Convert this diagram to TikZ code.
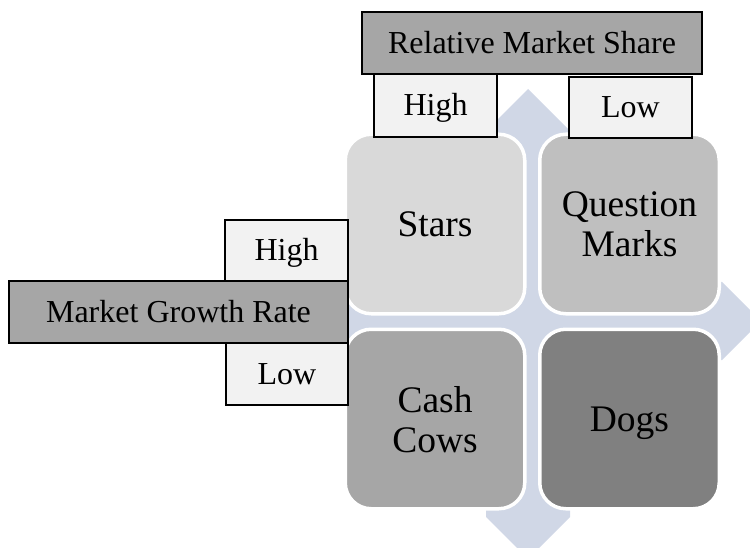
\documentclass[tikz,border=0pt]{standalone}
\usepackage{fontspec}
\setmainfont{Liberation Serif}
\definecolor{arrowbg}{HTML}{D0D7E6}
\definecolor{lblfill}{HTML}{F2F2F2}
\definecolor{hdrfill}{HTML}{A6A6A6}
\definecolor{starsfill}{HTML}{D9D9D9}
\definecolor{qmfill}{HTML}{BFBFBF}
\definecolor{ccfill}{HTML}{A6A6A6}
\definecolor{dogsfill}{HTML}{808080}
\tikzset{
  lbl/.style={draw=black, line width=1.3pt, fill=#1, rectangle, inner sep=0pt,
    font=\fontsize{32}{35}\selectfont, text height=21pt, text depth=0pt},
  quad/.style={rectangle, rounded corners=26pt, draw=white, line width=3.5pt, fill=#1,
    minimum width=179.5pt, minimum height=179.5pt, inner sep=0pt, align=center,
    font=\fontsize{37.5}{40}\selectfont, text depth=0pt},
  bgarrow/.style={fill=arrowbg, draw=none}
}
\begin{document}
\begin{tikzpicture}[x=1pt,y=-1pt]
\useasboundingbox (0,0) rectangle (750,548);
\clip (0,0) rectangle (750,548);
% four-way background arrow
\path[bgarrow] (528,89) -- (589,150) -- (570,150) -- (570,282) -- (722,282)
  -- (761,321) -- (722,360) -- (570,360) -- (570,517)
  -- (528,559) -- (486,517) -- (486,360) -- (336,360)
  -- (297,321) -- (336,282) -- (486,282) -- (486,150) -- (467,150) -- cycle;
% quadrants
\node[quad=starsfill] (stars) at (435,224) {Stars};
\node[quad=qmfill] (qm) at (629.5,224) {Question\\Marks};
\node[quad=ccfill] (cc) at (435,419) {Cash\\Cows};
\node[quad=dogsfill] (dogs) at (629.5,419) {Dogs};
% top labels
\node[lbl=lblfill, minimum width=123pt, minimum height=63pt] (thigh) at (435.5,105.5) {High};
\node[lbl=lblfill, minimum width=123pt, minimum height=61pt] (tlow) at (630.5,107.5) {Low};
\node[lbl=hdrfill, minimum width=340pt, minimum height=62pt] (rms) at (532,43) {Relative Market Share};
% left labels
\node[lbl=lblfill, minimum width=123pt, minimum height=61pt] (lhigh) at (286.5,250.5) {High};
\node[lbl=lblfill, minimum width=122pt, minimum height=62pt] (llow) at (287,374) {Low};
\node[lbl=hdrfill, minimum width=339pt, minimum height=62pt] (mgr) at (178.5,312) {Market Growth Rate};
\end{tikzpicture}
\end{document}
